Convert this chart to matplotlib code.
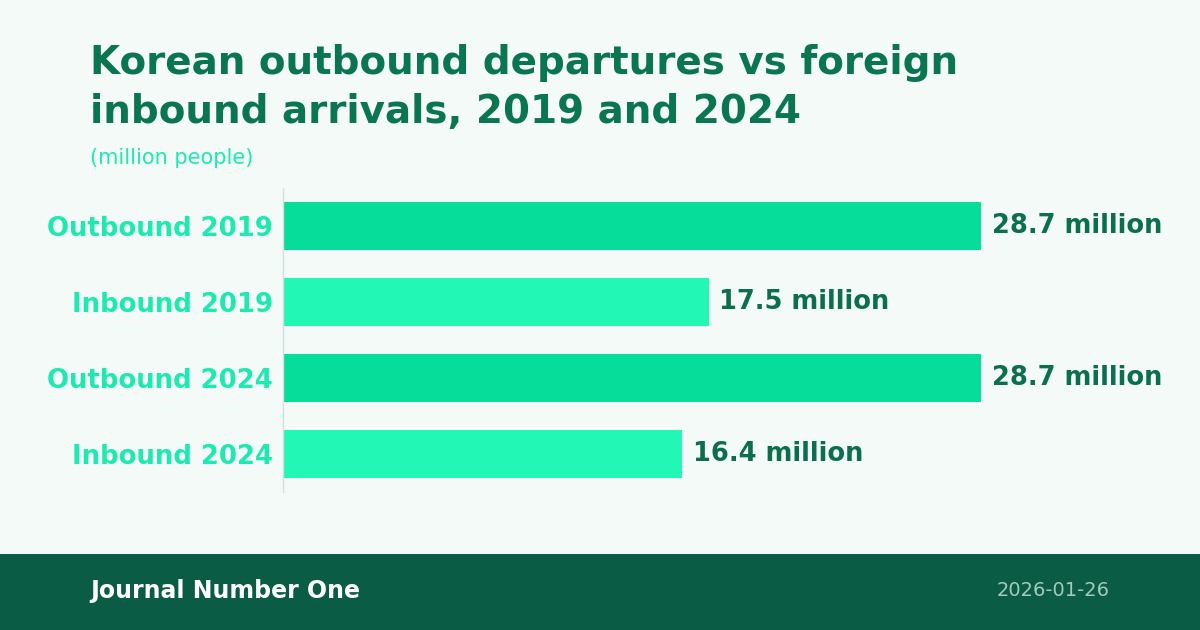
import matplotlib.pyplot as plt
from matplotlib.patches import Rectangle

# values (million people)
categories = ["Outbound 2019", "Inbound 2019", "Outbound 2024", "Inbound 2024"]
values = [28.7, 17.5, 28.7, 16.4]
bar_colors = ["#07dd9a", "#22f7b5", "#07dd9a", "#22f7b5"]
value_labels = ["28.7 million", "17.5 million", "28.7 million", "16.4 million"]

bg = "#f4faf8"
dark = "#0a7551"

fig = plt.figure(figsize=(12, 6.3), dpi=100, facecolor=bg)
ax = fig.add_axes([0.2358, 0.219, 0.689, 0.4826])
ax.set_facecolor(bg)

ypos = range(len(categories))
ax.barh(ypos, values, height=0.62, color=bar_colors)
for y, v, lab in zip(ypos, values, value_labels):
    ax.text(v + 0.45, y, lab, va="center", ha="left", fontsize=18.5,
            fontweight="bold", color="#0b6e4f")

ax.set_xlim(0, 34)
ax.set_ylim(3.5, -0.5)
ax.set_yticks(list(ypos))
ax.set_yticklabels(categories, fontsize=18.7, fontweight="bold", color="#1de9b0")
ax.tick_params(axis="y", length=0, pad=7)
ax.set_xticks([])
for s in ["top", "right", "bottom"]:
    ax.spines[s].set_visible(False)
ax.spines["left"].set_color("#cfe3dc")
ax.spines["left"].set_linewidth(1)

# title block
fig.text(90 / 1200, 1 - 74 / 630, "Korean outbound departures vs foreign",
         fontsize=28, fontweight="bold", color=dark, va="baseline")
fig.text(90 / 1200, 1 - 123 / 630, "inbound arrivals, 2019 and 2024",
         fontsize=28, fontweight="bold", color=dark, va="baseline")
fig.text(90 / 1200, 1 - 158 / 630, "(million people)", fontsize=15,
         color="#1de9b0", va="center")

# footer band
fig.patches.append(Rectangle((0, 0), 1, 76 / 630, transform=fig.transFigure,
                             facecolor="#0a5c44", edgecolor="none", zorder=0))
fig.text(90 / 1200, 39 / 630, "Journal Number One", fontsize=17,
         fontweight="bold", color="white", va="center")
fig.text(1110 / 1200, 39 / 630, "2026-01-26", fontsize=14,
         color="#a3cbbb", va="center", ha="right")

fig.savefig("out.png", dpi=100, facecolor=bg)
